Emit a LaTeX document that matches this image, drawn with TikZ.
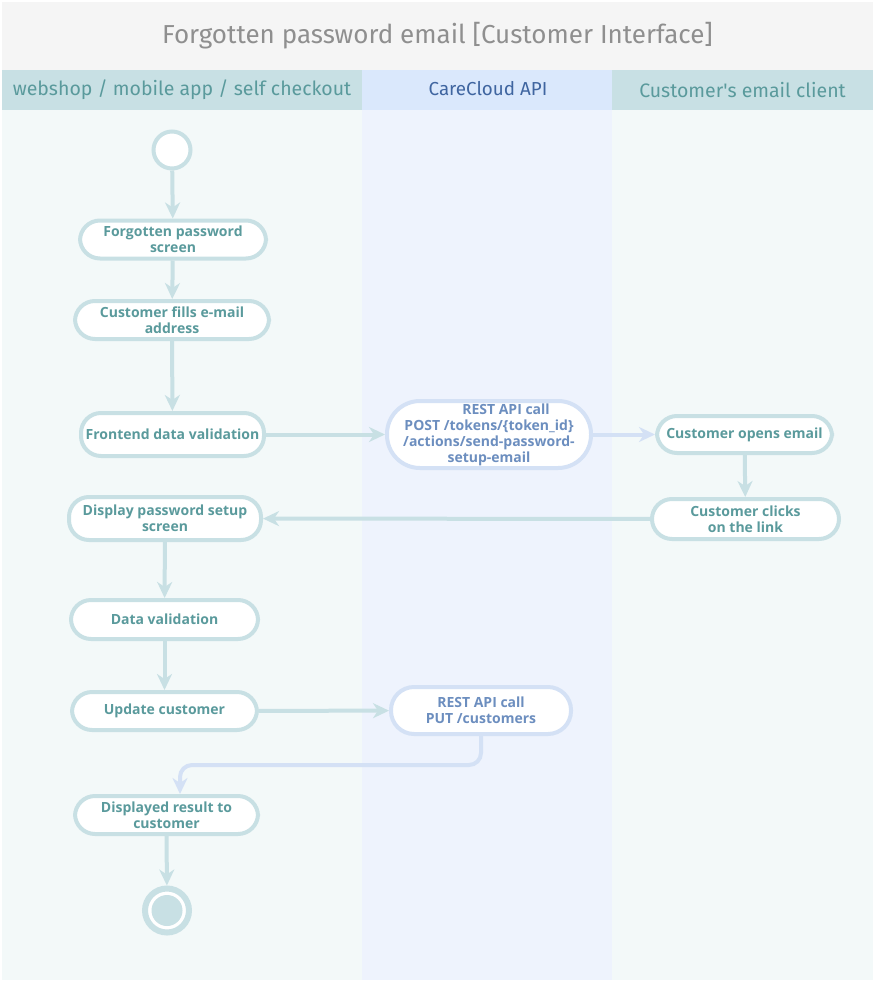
\documentclass[tikz,border=0pt]{standalone}
\usepackage{fontspec}
\setmainfont{Open Sans}
\newfontfamily\headfont{Fira Sans}
\usetikzlibrary{arrows.meta}
\definecolor{tealstroke}{HTML}{C8E0E4}
\definecolor{tealtext}{HTML}{5A9A9C}
\definecolor{tealbody}{HTML}{F3F9F9}
\definecolor{bluehead}{HTML}{DAE8FC}
\definecolor{bluebody}{HTML}{EEF3FD}
\definecolor{bluestroke}{HTML}{D4E1F5}
\definecolor{bluetext}{HTML}{6C8EBF}
\definecolor{blueheadtext}{HTML}{3F65A0}
\definecolor{titlebg}{HTML}{F5F5F5}
\definecolor{titletext}{HTML}{8F8F8F}
\tikzset{
  act/.style={draw=tealstroke, line width=4pt, fill=white, rounded corners=20pt,
    text=tealtext, font=\bfseries\fontsize{14}{16}\selectfont, align=center,
    inner sep=0pt},
  apiact/.style={act, draw=bluestroke, text=bluetext},
  flow/.style={draw=tealstroke, line width=4pt, -{Stealth[length=16pt,width=15pt,inset=5pt]}},
  apiflow/.style={flow, draw=bluestroke},
  lanehead/.style={font=\headfont\fontsize{19.5}{22}\selectfont, anchor=center},
}
\begin{document}
\begin{tikzpicture}[x=1pt,y=-1pt]
\useasboundingbox (0,0) rectangle (875,983);
\fill[white] (0,0) rectangle (875,983);
% title band
\fill[titlebg] (2,2) rectangle (873,70);
\node[font=\headfont\fontsize{26}{30}\selectfont, text=titletext] (title) at (437.5,36) {Forgotten password email [Customer Interface]};
% lane headers
\fill[tealstroke] (2,70) rectangle (362,110);
\fill[bluehead] (362,70) rectangle (612,110);
\fill[tealstroke] (612,70) rectangle (873,110);
\node[lanehead, text=tealtext] (h1) at (182,90) {webshop / mobile app / self checkout};
\node[lanehead, text=blueheadtext, font=\headfont\fontsize{18.8}{22}\selectfont] (h2) at (488,89) {CareCloud API};
\node[lanehead, text=tealtext] (h3) at (742.5,90) {Customer's email client};
% lane bodies
\fill[tealbody] (2,110) rectangle (362,980);
\fill[bluebody] (362,110) rectangle (612,980);
\fill[tealbody] (612,110) rectangle (873,980);

% nodes
\node[circle, draw=tealstroke, line width=4pt, fill=white, minimum size=37pt, inner sep=0pt] (start) at (172,150) {};
\node[act, minimum width=186pt, minimum height=38pt] (fp) at (173,239.5) {Forgotten password\\screen};
\node[act, minimum width=194pt, minimum height=38pt] (fill) at (172,320) {Customer fills e-mail\\address};
\node[act, minimum width=183pt, minimum height=43pt] (front) at (172.5,434.5) {Frontend data validation};
\node[apiact, minimum width=204pt, minimum height=67pt, rounded corners=33pt] (post) at (489,434.5) {\hspace*{34pt}REST API call\\POST /tokens/\{token\_id\}\\/actions/send-password-\\setup-email};
\node[act, minimum width=175pt, minimum height=37pt] (opens) at (744.5,434.5) {Customer opens email};
\node[act, minimum width=187pt, minimum height=40pt] (clicks) at (745.5,519) {Customer clicks\\on the link};
\node[act, minimum width=192pt, minimum height=43pt] (disp) at (165,518.5) {Display password setup\\screen};
\node[act, minimum width=187pt, minimum height=39pt] (valid) at (164.5,619.5) {Data validation};
\node[act, minimum width=185pt, minimum height=38pt] (upd) at (164.5,711) {Update customer};
\node[apiact, minimum width=180pt, minimum height=47pt, rounded corners=23pt] (put) at (481,710.5) {REST API call\\PUT /customers};
\node[act, minimum width=183pt, minimum height=38pt] (res) at (166.5,815) {Displayed result to\\customer};
\node[circle, draw=tealstroke, line width=6pt, fill=white, minimum size=44pt, inner sep=0pt] (end) at (167,910.5) {};
\fill[tealstroke] (end.center) circle (15.5pt);
\coordinate (bend1) at (481,765);
\coordinate (bend2) at (180,765);

% connectors
\draw[flow] (start) -- (fp);
\draw[flow] (fp) -- (fill);
\draw[flow] (fill) -- (front);
\draw[flow] (front) -- (post);
\draw[apiflow] (post) -- (opens);
\draw[flow] (opens) -- (clicks);
\draw[flow] (clicks) -- (disp);
\draw[flow] (disp) -- (valid);
\draw[flow] (valid) -- (upd);
\draw[flow] (upd) -- (put);
\draw[apiflow, rounded corners=12pt] (put.south) -- (bend1) -- (bend2) -- (bend2 |- res.north);
\draw[flow] (res) -- (end);
\end{tikzpicture}
\end{document}
